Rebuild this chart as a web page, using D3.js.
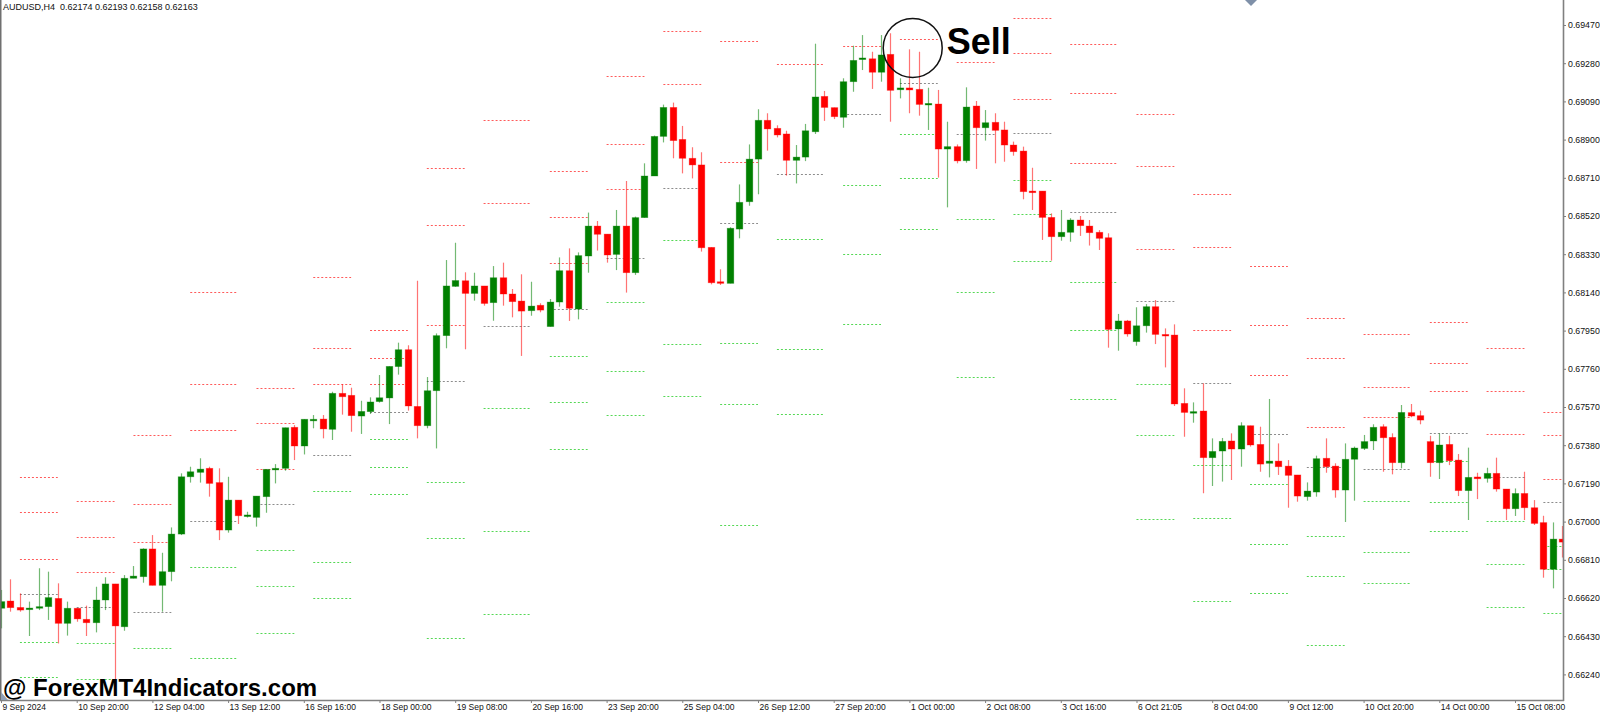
<!DOCTYPE html>
<html>
<head>
<meta charset="utf-8">
<script src="https://cdn.jsdelivr.net/npm/d3@7"></script>
<style>
html, body { margin: 0; padding: 0; background: #fff; }
svg { display: block; font-family: "Liberation Sans", Arial, sans-serif; }
</style>
</head>
<body>
<svg id="chart" width="1600" height="712"></svg>
<script>
// AUDUSD H4 candles (index 0 = 9 Sep 12:00)
const opens = [
  .66569,.66605,.66573,.66564,.66569,.66577,.66618,.66494,.66569,.66514,
  .66497,.66610,.66690,.66477,.66718,.66726,.66864,.66683,.66751,.66938,
  .67223,.67245,.67265,.67194,.66958,.67107,.67026,.67021,.67124,.67257,
  .67265,.67469,.67376,.67505,.67510,.67459,.67638,.67628,.67525,.67547,
  .67597,.67615,.67771,.67855,.67573,.67477,.67651,.67925,.68170,.68198,
  .68135,.68172,.68089,.68213,.68132,.68097,.68049,.68076,.67970,.68092,
  .68248,.68057,.68321,.68470,.68430,.68329,.68470,.68238,.68512,.68719,
  .68916,.69060,.68901,.68807,.68774,.68364,.68193,.68185,.68455,.68591,
  .68803,.68996,.68956,.68928,.68797,.68813,.68939,.69115,.69059,.69011,
  .69188,.69298,.69302,.69235,.69324,.69148,.69157,.69150,.69074,.69077,
  .68853,.68865,.68795,.69067,.68959,.68986,.68948,.68873,.68843,.68644,
  .68644,.68513,.68417,.68439,.68500,.68470,.68439,.68412,.67958,.67998,
  .67895,.67974,.68069,.67931,.67928,.67588,.67542,.67550,.67318,.67351,
  .67401,.67361,.67477,.67384,.67290,.67301,.67276,.67232,.67124,.67147,
  .67315,.67276,.67157,.67310,.67364,.67401,.67472,.67419,.67293,.67542,
  .67527,.67398,.67293,.67384,.67306,.67154,.67222,.67215,.67240,.67162,
  .67064,.67140,.67069,.66995,.66763,.66913]
const highs = [
  .66660,.66713,.66643,.66602,.66768,.66751,.66693,.66602,.66569,.66582,
  .66676,.66723,.66690,.66734,.66779,.66867,.66933,.66845,.66971,.67240,
  .67273,.67315,.67273,.67265,.67223,.67107,.67049,.67127,.67260,.67286,
  .67467,.67480,.67509,.67530,.67530,.67646,.67683,.67666,.67601,.67618,
  .67729,.67772,.67890,.67877,.68198,.67719,.67936,.68301,.68387,.68240,
  .68238,.68172,.68271,.68288,.68157,.68230,.68193,.68086,.68107,.68314,
  .68359,.68339,.68537,.68495,.68430,.68550,.68694,.68517,.68782,.68920,
  .69074,.69084,.68968,.68862,.68837,.68364,.68255,.68464,.68677,.68876,
  .69051,.69031,.68971,.68944,.68873,.68978,.69377,.69142,.69059,.69205,
  .69367,.69420,.69337,.69420,.69429,.69205,.69349,.69337,.69158,.69147,
  .68989,.68876,.69160,.69092,.69047,.69031,.68989,.68890,.68865,.68760,
  .68644,.68533,.68550,.68509,.68520,.68500,.68450,.68434,.68033,.68003,
  .68066,.68082,.68102,.67961,.67981,.67663,.67593,.67688,.67414,.67416,
  .67439,.67494,.67477,.67472,.67610,.67389,.67306,.67232,.67195,.67328,
  .67414,.67290,.67389,.67373,.67431,.67484,.67484,.67439,.67580,.67585,
  .67552,.67427,.67439,.67427,.67336,.67368,.67243,.67268,.67318,.67162,
  .67165,.67248,.67107,.67029,.66996,.66978]
const lows = [
  .66469,.66552,.66552,.66431,.66560,.66511,.66394,.66433,.66502,.66431,
  .66449,.66560,.66212,.66457,.66718,.66696,.66683,.66552,.66703,.66933,
  .67194,.67194,.67124,.66908,.66945,.66988,.67020,.66975,.67044,.67190,
  .67253,.67306,.67334,.67464,.67414,.67406,.67532,.67447,.67436,.67535,
  .67592,.67485,.67731,.67552,.67414,.67464,.67364,.67862,.68168,.67857,
  .68099,.68074,.67999,.68074,.68016,.67824,.68024,.68041,.67970,.68069,
  .67998,.68006,.68238,.68348,.68288,.68251,.68139,.68227,.68512,.68719,
  .68886,.68807,.68732,.68707,.68343,.68180,.68177,.68185,.68409,.68571,
  .68628,.68845,.68911,.68721,.68682,.68793,.68928,.68993,.69002,.68959,
  .69138,.69246,.69152,.69188,.68989,.69105,.69031,.69019,.68948,.68711,
  .68563,.68782,.68785,.68754,.68895,.68782,.68790,.68820,.68603,.68550,
  .68401,.68298,.68397,.68392,.68421,.68373,.68351,.67865,.67850,.67920,
  .67875,.67940,.67883,.67767,.67575,.67422,.67492,.67141,.67177,.67199,
  .67207,.67273,.67373,.67248,.67220,.67232,.67069,.67099,.67104,.67124,
  .67243,.67119,.66998,.67104,.67356,.67356,.67248,.67235,.67265,.67519,
  .67484,.67223,.67212,.67281,.67127,.67008,.67112,.67194,.67149,.67008,
  .67028,.67008,.66983,.66721,.66668,.66821]
const closes = [
  .66602,.66572,.66560,.66570,.66577,.66622,.66494,.66569,.66516,.66497,
  .66610,.66690,.66481,.66718,.66729,.66864,.66683,.66751,.66938,.67223,
  .67248,.67261,.67190,.66958,.67107,.67029,.67033,.67127,.67260,.67265,
  .67467,.67376,.67509,.67509,.67461,.67638,.67621,.67527,.67548,.67595,
  .67616,.67772,.67855,.67575,.67477,.67651,.67925,.68172,.68199,.68135,
  .68172,.68085,.68213,.68132,.68094,.68047,.68072,.68052,.68092,.68248,
  .68061,.68323,.68470,.68429,.68326,.68470,.68238,.68512,.68719,.68916,
  .69060,.68895,.68807,.68774,.68362,.68188,.68185,.68459,.68588,.68803,
  .68996,.68953,.68923,.68797,.68813,.68944,.69112,.69060,.69014,.69188,
  .69294,.69306,.69235,.69321,.69145,.69157,.69147,.69075,.69080,.68853,
  .68865,.68794,.69062,.68959,.68984,.68946,.68873,.68840,.68641,.68636,
  .68513,.68417,.68439,.68500,.68472,.68437,.68409,.67956,.67998,.67933,
  .67974,.68069,.67931,.67925,.67585,.67543,.67547,.67318,.67349,.67399,
  .67361,.67477,.67381,.67286,.67301,.67273,.67230,.67127,.67152,.67313,
  .67273,.67157,.67310,.67366,.67398,.67469,.67417,.67293,.67543,.67525,
  .67505,.67293,.67381,.67303,.67154,.67220,.67213,.67240,.67162,.67064,
  .67140,.67069,.66991,.66763,.66913,.66898]

// daily pivot levels: first and last candle index of each day, then the levels
const segStart = [2,8,14,20,27,33,39,45,51,58,64,70,76,82,89,95,101,107,113,120,126,132,138,144,151,157,163]
const segEnd   = [6,12,18,25,31,37,43,49,56,62,68,74,80,87,93,99,105,111,118,124,130,136,142,149,155,161,167]
const r3 = [.67223,.67102,.67431,.68142,.67666,.68218,.67953,.68757,null,.68745,.69218,null,null,null,
            null,null,null,.69506,.69374,.69026,.68629,.68273,.68013,.67933,.67994,.67862,.67547]
const r2 = [.67049,.66925,.67086,.67686,.67492,.67865,.67815,.68477,.68998,.68517,.68877,.69438,.69390,null,
            null,null,null,.69332,.69130,.68770,.68366,.67978,.67814,.67671,.67790,.67650,.67431]
const r1 = [.66812,.66748,.66900,.67454,.67260,.67686,.67683,.67978,.68586,.68285,.68654,.69178,.68790,.69276,
            .69367,.69399,.69288,.69102,.68782,.68354,.67955,.67728,.67469,.67519,.67650,.67434,.67210]
const pp = [.66638,.66574,.66552,.67005,.67086,.67331,.67545,.67698,.67974,.68056,.68313,.68661,.68487,.68727,
            .69026,.69180,.68926,.68931,.68541,.68099,.67689,.67436,.67270,.67260,.67442,.67223,.67099]
const s1 = [.66400,.66395,.66370,.66774,.66859,.67152,.67409,.67198,.67563,.67824,.68091,.68401,.67886,.68406,
            .68674,.68926,.68504,.68699,.68193,.67683,.67280,.67186,.66928,.67104,.67301,.67004,.66879]
const s2 = [.66226,.66217,null,.66323,.66680,.66798,.67272,.66917,.66951,.67593,.67749,.67882,.67583,.67857,
            .68333,.68711,.68142,.68529,.67953,.67431,.67016,.66890,.66729,.66847,.67096,.66789,.66764]
const s3 = [null,null,null,null,.66448,.66619,.67136,.66419,.66540,.67360,.67530,.67623,.66983,.67535,
            .67981,.68455,.67718,.68298,.67608,.67014,.66606,.66643,.66388,.66693,.66955,.66574,.66547]

const xLabels = ["9 Sep 2024","10 Sep 20:00","12 Sep 04:00","13 Sep 12:00","16 Sep 16:00","18 Sep 00:00",
  "19 Sep 08:00","20 Sep 16:00","23 Sep 20:00","25 Sep 04:00","26 Sep 12:00","27 Sep 20:00","1 Oct 00:00",
  "2 Oct 08:00","3 Oct 16:00","6 Oct 21:05","8 Oct 04:00","9 Oct 12:00","10 Oct 20:00","14 Oct 00:00","15 Oct 08:00"]
const xLabelIndex = xLabels.map((d, i) => i * 8)
const yTicks = [0.69470,0.69280,0.69090,0.68900,0.68710,0.68520,0.68330,0.68140,0.67950,
                0.67760,0.67570,0.67380,0.67190,0.67000,0.66810,0.66620,0.66430,0.66240]

const header = "AUDUSD,H4  0.62174 0.62193 0.62158 0.62163"
const sellMark = {i: 96.35, p: 0.69356}

const W = 1563, H = 700
const svg = d3.select("#chart")
const x = d3.scaleLinear().domain([0, 165]).range([1, 1562.3])
const y = d3.scaleLinear().domain([0.66240, 0.69470]).range([674.4, 25])

svg.append("defs").append("clipPath").attr("id", "plot")
  .append("rect").attr("x", 0).attr("y", 0).attr("width", W).attr("height", H)

const plot = svg.append("g").attr("clip-path", "url(#plot)")

// pivot levels
function draw_levels(levels, color) {
  let segs = levels.map((v, j) => ({v: v, a: segStart[j], b: segEnd[j]})).filter(d => d.v != null)
  plot.append("g").selectAll("line")
    .data(segs).enter()
    .append("line")
    .attr("x1", d => x(d.a)).attr("x2", d => x(d.b))
    .attr("y1", d => Math.round(y(d.v)) + 0.5).attr("y2", d => Math.round(y(d.v)) + 0.5)
    .attr("stroke", color).attr("stroke-width", 1).attr("stroke-dasharray", "2,2")
}
draw_levels(r3, "#ff5a5a")
draw_levels(r2, "#ff5a5a")
draw_levels(r1, "#ff5a5a")
draw_levels(pp, "#8c8c8c")
draw_levels(s1, "#55d855")
draw_levels(s2, "#55d855")
draw_levels(s3, "#55d855")

// candles
const candles = opens.map((o, i) => ({i: i, o: o, h: highs[i], l: lows[i], c: closes[i]}))
const colorOf = d => d.c >= d.o ? "#008000" : "#ff0000"
const cx = d => Math.round(x(d.i)) + 0.5

plot.append("g").selectAll("line")
  .data(candles).enter()
  .append("line")
  .attr("x1", cx).attr("x2", cx)
  .attr("y1", d => y(d.h)).attr("y2", d => y(d.l))
  .attr("stroke", colorOf).attr("stroke-opacity", 0.55).attr("stroke-width", 1.2)

plot.append("g").selectAll("rect")
  .data(candles).enter()
  .append("rect")
  .attr("x", d => cx(d) - 3.3)
  .attr("width", 6.6)
  .attr("y", d => Math.min(y(d.o), y(d.c)))
  .attr("height", d => Math.max(1.6, Math.abs(y(d.o) - y(d.c))))
  .attr("fill", colorOf)
  .attr("stroke", colorOf).attr("stroke-opacity", 0.4).attr("stroke-width", 0.8)

// axes
const axisColor = "#808080"
let yAxis = svg.append("g").attr("transform", `translate(${W},0)`)
  .call(d3.axisRight(y).tickValues(yTicks).tickSize(3).tickPadding(2).tickFormat(d3.format(".5f")))
yAxis.select(".domain").remove()
yAxis.selectAll("line").attr("stroke", axisColor)
yAxis.selectAll("text").attr("font-size", 8.8).attr("fill", "#111")
  .attr("font-family", "Liberation Sans, Arial, sans-serif")

let xAxis = svg.append("g").attr("transform", `translate(0,${H})`)
  .call(d3.axisBottom(x).tickValues(xLabelIndex).tickSize(3).tickPadding(1)
    .tickFormat((d, i) => xLabels[i]))
xAxis.select(".domain").remove()
xAxis.selectAll("line").attr("stroke", axisColor)
xAxis.selectAll("text").attr("font-size", 8.5).attr("fill", "#111")
  .attr("text-anchor", "start").attr("dx", 1)
  .attr("font-family", "Liberation Sans, Arial, sans-serif")

svg.append("line").attr("x1", W + 0.5).attr("x2", W + 0.5).attr("y1", 0).attr("y2", H + 1)
  .attr("stroke", axisColor).attr("stroke-width", 1.6)
svg.append("line").attr("x1", 0).attr("x2", W + 1).attr("y1", H + 0.5).attr("y2", H + 0.5)
  .attr("stroke", axisColor).attr("stroke-width", 1.6)
svg.append("line").attr("x1", 0.75).attr("x2", 0.75).attr("y1", 0).attr("y2", H)
  .attr("stroke", "#707070").attr("stroke-width", 1.5)

// small markers
svg.append("polygon").attr("points", "1245,0 1257,0 1251,6").attr("fill", "#7f90a8")
svg.append("polygon").attr("points", "1,692 1,700 8,700").attr("fill", "#8fa0b8")

// header, watermark, annotation
svg.append("text").attr("x", 3).attr("y", 10).attr("font-size", 9).attr("fill", "#111")
  .style("white-space", "pre")
  .text(header)

svg.append("text").attr("x", 3).attr("y", 696)
  .attr("font-size", 24).attr("font-weight", "bold").attr("fill", "#000")
  .text("@ ForexMT4Indicators.com")

svg.append("circle")
  .attr("cx", x(sellMark.i)).attr("cy", y(sellMark.p)).attr("r", 29.5)
  .attr("fill", "none").attr("stroke", "#111").attr("stroke-width", 1.5)
svg.append("text")
  .attr("x", x(sellMark.i) + 34).attr("y", y(sellMark.p) + 6)
  .attr("font-size", 36).attr("font-weight", "bold").attr("fill", "#000")
  .text("Sell")
</script>
</body>
</html>
